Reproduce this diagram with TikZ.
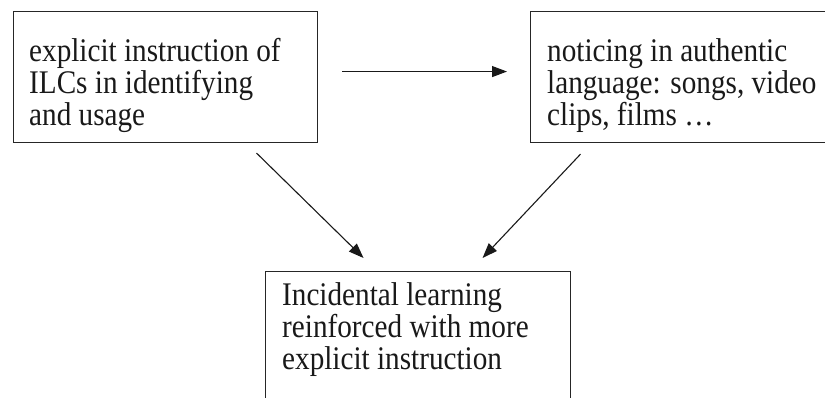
\documentclass[tikz,border=0pt]{standalone}
\usepackage{fontspec}
\setmainfont[FakeStretch=0.885]{Liberation Serif}
\usetikzlibrary{arrows.meta}

\tikzset{
  box/.style={draw=black!85, line width=1.1pt, inner sep=0pt, anchor=north west},
  label/.style={anchor=north west, inner sep=0pt, align=left, text=black!90,
                font=\fontsize{33pt}{32pt}\selectfont},
  arr/.style={draw=black!90, line width=1.1pt,
              -{Triangle[length=15pt,width=11pt]}}
}

\begin{document}
\begin{tikzpicture}[x=1pt,y=1pt]
  \useasboundingbox (0,0) rectangle (825,-397);

  % the three boxes (the right and lower ones run past the page edge)
  \node[box, minimum width=304pt, minimum height=131pt] (b1) at (13,-11) {};
  \node[box, minimum width=300pt, minimum height=131pt] (b2) at (530,-11) {};
  \node[box, minimum width=305pt, minimum height=150pt] (b3) at (265,-271) {};

  % box texts
  \node[label] (t1) at ([shift={(16,-27.5)}]b1.north west)
    {explicit instruction of\\ILCs in identifying\\and usage};
  \node[label] (t2) at ([shift={(17,-27.5)}]b2.north west)
    {noticing in authentic\\language: songs, video\\clips, films …};
  \node[label] (t3) at ([shift={(17,-11.5)}]b3.north west)
    {Incidental learning\\reinforced with more\\explicit instruction};

  % connectors
  \draw[arr] ([shift={(24,5.5)}]b1.east) -- ([shift={(-23,5.5)}]b2.west);
  \draw[arr] ([shift={(91,-10)}]b1.south) -- ([shift={(-54.5,13)}]b3.north);
  \draw[arr] ([shift={(-100,-11)}]b2.south) -- ([shift={(64.5,13)}]b3.north);
\end{tikzpicture}
\end{document}
